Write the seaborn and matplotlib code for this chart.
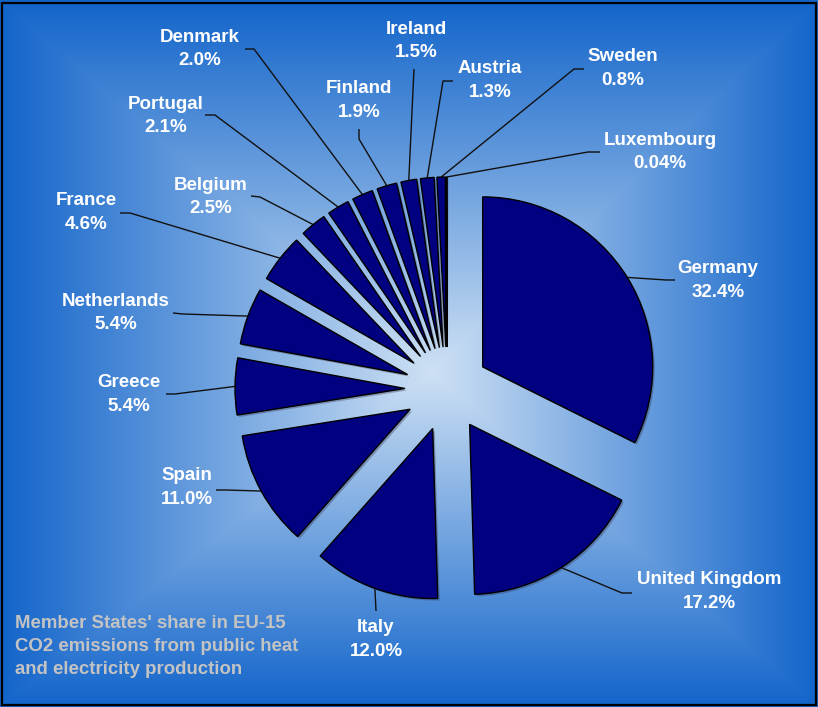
import numpy as np
import matplotlib
matplotlib.use("Agg")
import matplotlib.pyplot as plt
import matplotlib.patches as mpatches
import seaborn as sns

# ---------------- data ----------------
countries = ["Germany", "United Kingdom", "Italy", "Spain", "Greece", "Netherlands",
             "France", "Belgium", "Portugal", "Denmark", "Finland", "Ireland",
             "Austria", "Sweden", "Luxembourg"]
shares = [32.4, 17.2, 12.0, 11.0, 5.4, 5.4, 4.6, 2.5, 2.1, 2.0, 1.9, 1.5, 1.3, 0.8, 0.04]
share_labels = ["32.4%", "17.2%", "12.0%", "11.0%", "5.4%", "5.4%", "4.6%", "2.5%",
                "2.1%", "2.0%", "1.9%", "1.5%", "1.3%", "0.8%", "0.04%"]
note_lines = ["Member States' share in EU-15",
              "CO2 emissions from public heat",
              "and electricity production"]

# ---------------- layout (pixel coordinates) ----------------
W, H = 818, 707
pie_center = (447, 389)
pie_radius = 170
pie_explode = 42
label_pos = [(718, 280.5), (709, 591.5), (376, 639.5), (187, 487.5), (129, 394.5),
             (116, 313), (86, 212.5), (211, 197), (166, 116), (200, 49),
             (359, 100.5), (416, 41), (490, 80.5), (623, 68.5), (660, 152)]
elbows = [(666, 280), (622, 593), (376, 611), (226, 490), (175, 394),
          (183, 314), (130, 213), (260, 197), (215, 115), (254, 49),
          (359, 139), (414, 69), (443, 81), (574, 69), (588, 152)]
ends = [(675, 280), (632, 593), (376, 611), (216, 490), (166, 394),
        (173, 313), (120, 213), (251, 196), (205, 115), (245, 49),
        (359, 129), (414, 69), (453, 81), (584, 69), (600, 152)]

sns.set_theme(style="white")
plt.rcParams['font.family'] = ['Liberation Sans', 'DejaVu Sans']

fig = plt.figure(figsize=(W / 100, H / 100), dpi=100)
ax = fig.add_axes([0, 0, 1, 1])

# rectangular "from centre" gradient background
cx, cy = 432, 372
xs = np.arange(W) + 0.5
ys = np.arange(H) + 0.5
dx = np.where(xs < cx, (cx - xs) / cx, (xs - cx) / (W - cx))
dy = np.where(ys < cy, (cy - ys) / cy, (ys - cy) / (H - cy))
d = np.maximum(dx[None, :], dy[:, None])
c0 = np.array([206, 225, 244]) / 255
c1 = np.array([18, 100, 202]) / 255
img = c0 + (c1 - c0) * d[..., None]
ax.imshow(img, extent=(0, W, H, 0), zorder=0, interpolation='bilinear')

wedges, _ = ax.pie(shares, radius=pie_radius, center=pie_center,
                   explode=[pie_explode] * len(shares), startangle=-90,
                   counterclock=True, colors=['#000080'] * len(shares),
                   wedgeprops=dict(edgecolor='black', linewidth=1.0, zorder=3))

for w, lab, val, lp, el, en in zip(wedges, countries, share_labels, label_pos, elbows, ends):
    # soft shadow
    sh = mpatches.Wedge((w.center[0] + 2, w.center[1] + 2), w.r, w.theta1, w.theta2,
                        facecolor='#303048', alpha=0.35, linewidth=0, zorder=2.5)
    ax.add_patch(sh)
    tm = np.deg2rad((w.theta1 + w.theta2) / 2)
    px = w.center[0] + w.r * np.cos(tm)
    py = w.center[1] + w.r * np.sin(tm)
    ax.plot([px, el[0], en[0]], [py, el[1], en[1]], color='#111111', lw=1.0,
            zorder=2, solid_capstyle='butt')
    ax.text(lp[0], lp[1], f"{lab}\n{val}", ha='center', va='center',
            multialignment='center', color='white', fontsize=13.5,
            fontweight='bold', linespacing=1.5, zorder=5)

ax.text(15, 646.5, "\n".join(note_lines), ha='left', va='center', color='#c3c3c3',
        fontsize=13.4, fontweight='bold', linespacing=1.44, zorder=5)

ax.add_patch(mpatches.Rectangle((2, 3), W - 4, H - 5, fill=False, edgecolor='black',
                                linewidth=1.6, zorder=10, clip_on=False))

ax.set_xlim(0, W)
ax.set_ylim(H, 0)
ax.set_aspect('equal')
ax.axis('off')

fig.savefig('out.png', dpi=100)
